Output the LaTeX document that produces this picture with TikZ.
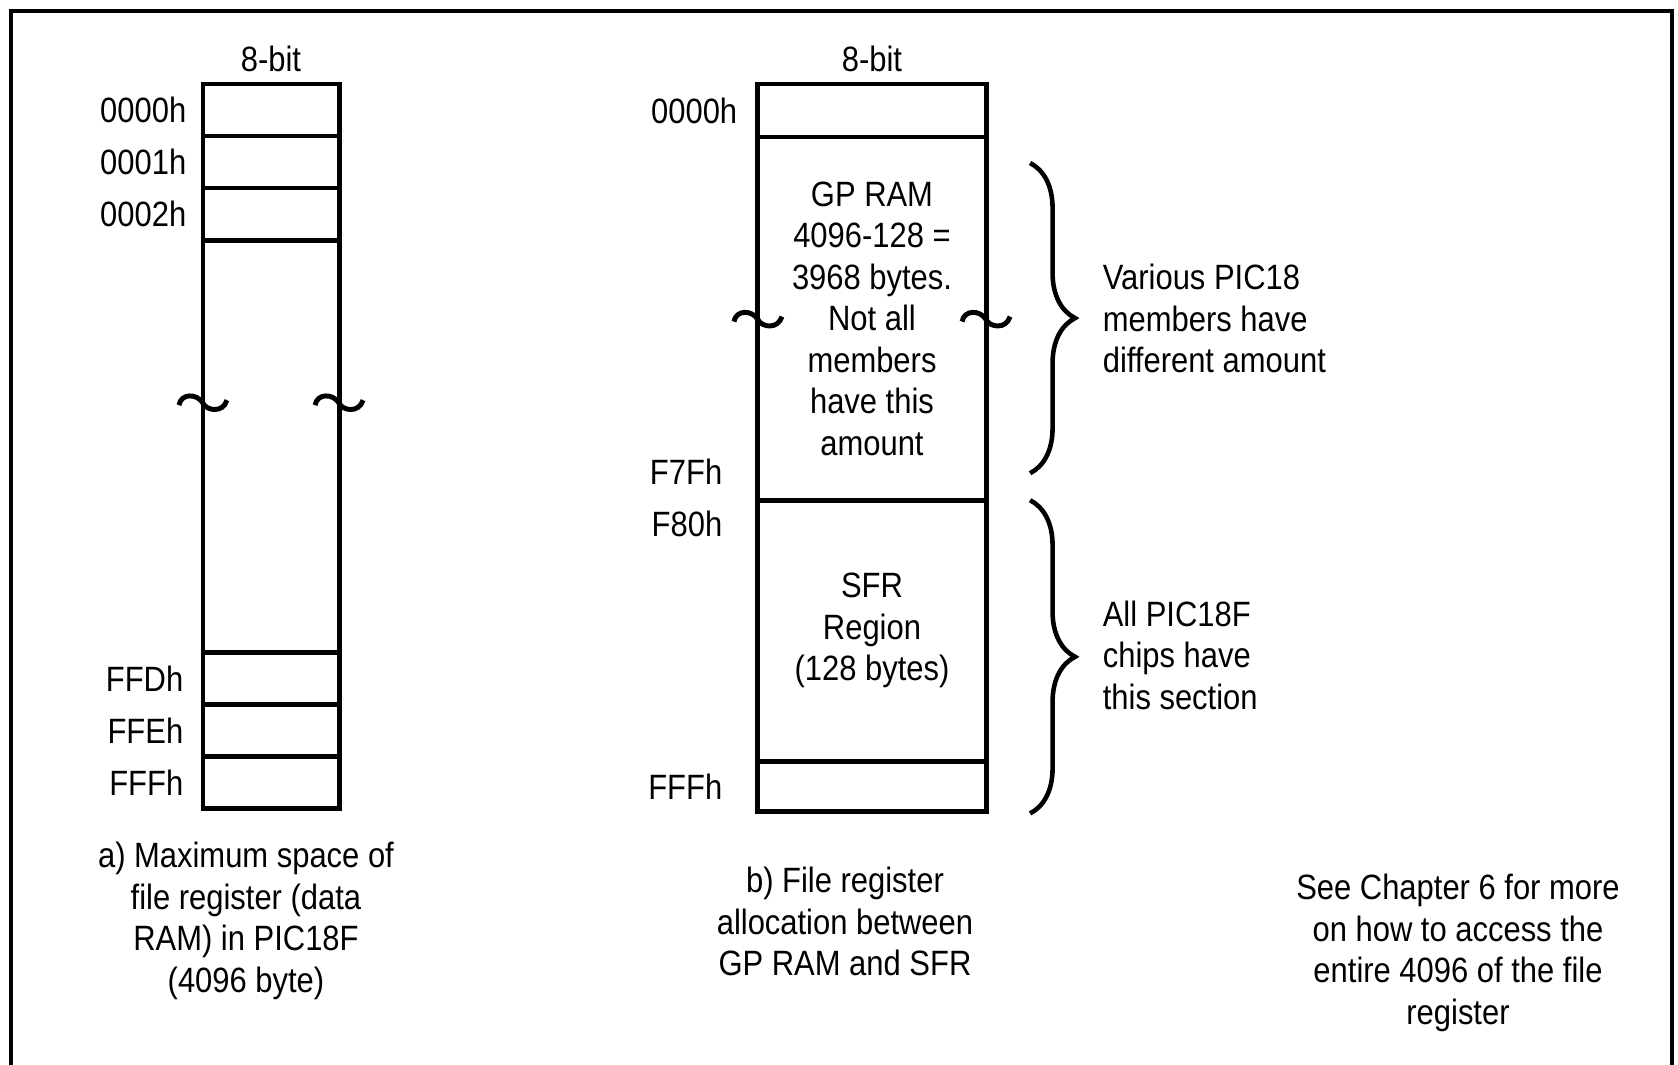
\documentclass[tikz,border=0pt]{standalone}
\usepackage{fontspec}
\setmainfont{Liberation Sans}[FakeStretch=0.88]
\usetikzlibrary{positioning, decorations.pathreplacing}
\tikzset{
  cell/.style={rectangle, draw, line width=1.4pt, minimum width=1.36cm,
    minimum height=0.52cm, outer sep=0pt, inner sep=0pt},
  wcell/.style={cell, minimum width=2.28cm, align=center},
  addr/.style={inner sep=0pt},
  txt/.style={align=center, inner sep=0pt},
  note/.style={align=left, inner sep=0pt},
  brc/.style={decorate, decoration={brace, amplitude=0.45cm}, line width=1.3pt},
  frm/.style={line width=1.1pt},
  brk/.pic={\draw[line width=1.4pt] (-24,3) .. controls (-22,-9) and (-6,-9) .. (0,1)
    .. controls (4,9) and (20,11) .. (24,-2);},
}

\begin{document}
\begin{tikzpicture}[x=0.01cm, y=-0.01cm,
  every node/.style={font=\fontsize{10}{11.8}\selectfont}]
  \useasboundingbox (0,0) rectangle (1678,1065);
  % frame
  \draw[frm] (11,1065) -- (11,11) -- (1672,11) -- (1672,1065);

  % Column a: whole data RAM
  \node[cell] (a0) at (271,110) {};
  \node[cell, below=0pt of a0] (a1) {};
  \node[cell, below=0pt of a1] (a2) {};
  \node[cell, minimum height=4.12cm, below=0pt of a2] (amid) {};
  \node[cell, below=0pt of amid] (a3) {};
  \node[cell, below=0pt of a3] (a4) {};
  \node[cell, below=0pt of a4] (a5) {};
  \node[above=0pt of a0] (abits) {8-bit};

  \node[addr, left=0.16cm of a0] (la0) {0000h};
  \node[addr, left=0.16cm of a1] (la1) {0001h};
  \node[addr, left=0.16cm of a2] (la2) {0002h};
  \node[addr, left=0.19cm of a3] (la3) {FFDh};
  \node[addr, left=0.19cm of a4] (la4) {FFEh};
  \node[addr, left=0.19cm of a5] (la5) {FFFh};

  \pic at ([yshift=0.44cm]amid.west) {brk};
  \pic at ([yshift=0.44cm]amid.east) {brk};

  % Column b: GP RAM and SFR
  \node[wcell, minimum height=0.53cm] (b0) at (872,110.5) {};
  \node[wcell, minimum height=3.63cm, below=0pt of b0] (gp)
    {GP RAM\\4096-128 =\\3968 bytes.\\Not all\\members\\have this\\amount};
  \node[wcell, minimum height=2.61cm, below=0pt of gp] (sfr)
    {SFR\\Region\\(128 bytes)};
  \node[wcell, minimum height=0.50cm, below=0pt of sfr] (b3) {};
  \node[above=0pt of b0] (bbits) {8-bit};

  \node[addr, left=0.2cm of b0] (lb0) {0000h};
  \node[addr, left=0.35cm of gp.south west, yshift=0.28cm] (lf7f) {F7Fh};
  \node[addr, left=0.35cm of sfr.north west, yshift=-0.24cm] (lf80) {F80h};
  \node[addr, left=0.35cm of b3] (lfff) {FFFh};

  \pic at (gp.west) {brk};
  \pic at (gp.east) {brk};

  % braces and notes
  \draw[brc] ([shift={(44,26)}]gp.north east) -- ([shift={(44,-27)}]gp.south east);
  \draw[brc] ([shift={(44,0)}]sfr.north east) -- ([shift={(44,2)}]b3.south east);
  \node[note, anchor=west] (gpnote) at ([xshift=1.16cm]gp.east)
    {Various PIC18\\members have\\different amount};
  \node[note, anchor=west] (sfrnote) at ([xshift=1.16cm, yshift=-0.245cm]sfr.east)
    {All PIC18F\\chips have\\this section};

  % captions
  \node[txt, below=0.33cm of a5, xshift=-0.25cm] (capa)
    {a) Maximum space of\\file register (data\\RAM) in PIC18F\\(4096 byte)};
  \node[txt, below=0.55cm of b3, xshift=-0.27cm] (capb)
    {b) File register\\allocation between\\GP RAM and SFR};
  \node[txt] (capc) at (1458,953)
    {See Chapter 6 for more\\on how to access the\\entire 4096 of the file\\register};
\end{tikzpicture}
\end{document}
